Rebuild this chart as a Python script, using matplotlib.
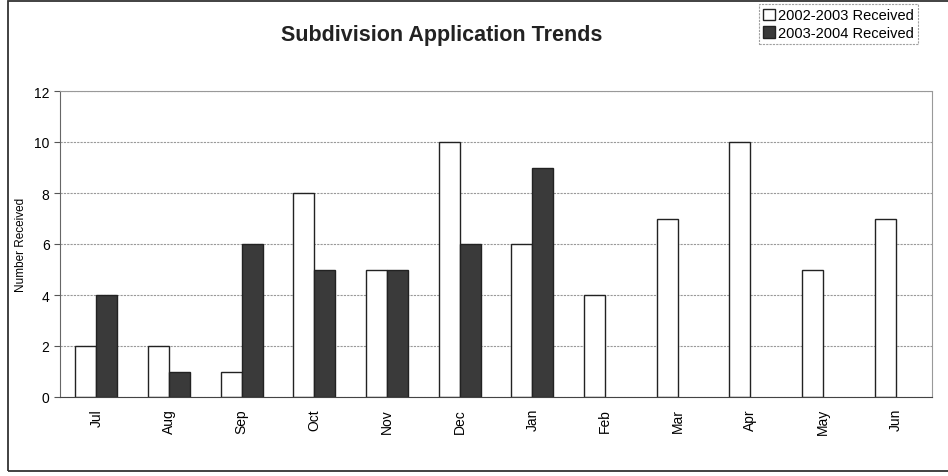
import matplotlib
matplotlib.use("Agg")
import matplotlib.pyplot as plt
import numpy as np
from matplotlib.patches import Rectangle

months = ["Jul", "Aug", "Sep", "Oct", "Nov", "Dec", "Jan", "Feb", "Mar", "Apr", "May", "Jun"]
received_0203 = [2, 2, 1, 8, 5, 10, 6, 4, 7, 10, 5, 7]
received_0304 = [4, 1, 6, 5, 5, 6, 9]
labels = ["2002-2003 Received", "2003-2004 Received"]

W, H = 948, 477
fig = plt.figure(figsize=(W / 100, H / 100), dpi=100)
plt.rcParams['font.family'] = ['Liberation Sans', 'DejaVu Sans']

# outer frame
fig.patches.append(Rectangle((8 / W, 5 / H), (W + 10) / W, (H - 7) / H, transform=fig.transFigure,
                             fill=False, edgecolor='#333333', linewidth=1.3))

ax = fig.add_axes([60 / W, 1 - 398 / H, (932 - 60) / W, (398 - 92) / H])
x = np.arange(len(months))
bw = 0.29
ax.bar(x - bw / 2, received_0203, bw, color='white', edgecolor='#222222', linewidth=1.0, label=labels[0])
ax.bar(x[:len(received_0304)] + bw / 2, received_0304, bw, color='#3a3a3a', edgecolor='#222222',
       linewidth=1.0, label=labels[1])

ax.set_xlim(-0.5, len(months) - 0.5)
ax.set_ylim(0, 12)
ax.set_yticks(range(0, 13, 2))
ax.set_xticks(x)
ax.set_xticklabels(months, rotation=90, fontsize=10)
ax.tick_params(axis='y', labelsize=10, length=4, color='#555555')
ax.tick_params(axis='x', length=0, pad=8)
ax.yaxis.grid(True, color='#999999', linestyle=(0, (2, 1)), linewidth=0.8)
ax.set_axisbelow(True)
for s in ['top', 'right']:
    ax.spines[s].set_color('#999999')
    ax.spines[s].set_linestyle((0, (2, 1)))
    ax.spines[s].set_linewidth(0.8)
ax.spines['left'].set_color('#666666')
ax.spines['bottom'].set_color('#444444')
ax.set_ylabel("Number Received", fontsize=8.5, labelpad=5)

fig.text(442 / W, 1 - 36 / H, "Subdivision Application Trends", ha='center', va='center',
         fontsize=15.5, fontweight='bold', color='#222222')

leg = fig.legend(loc='upper right', bbox_to_anchor=(918 / W, 1 - 5 / H), fontsize=10.5,
                 frameon=True, fancybox=False, handlelength=0.8, handleheight=0.8,
                 handletextpad=0.2, borderpad=0.3, labelspacing=0.25, borderaxespad=0)
leg.get_frame().set_edgecolor('#888888')
leg.get_frame().set_linestyle((0, (2, 1)))
leg.get_frame().set_linewidth(0.8)

fig.savefig("out.png", dpi=100)
